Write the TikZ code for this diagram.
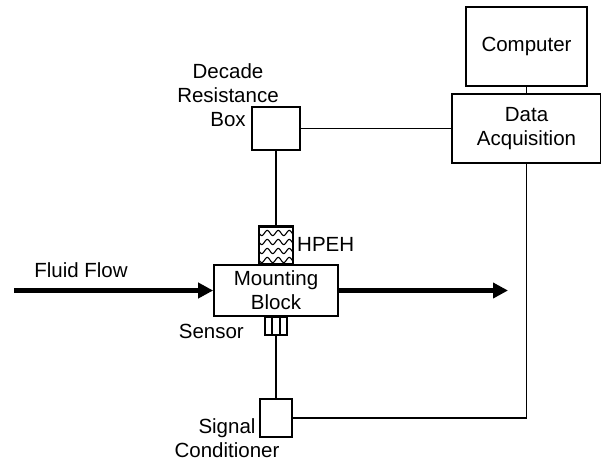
\documentclass[tikz,border=0pt]{standalone}
\usepackage{fontspec}
\setmainfont{Liberation Sans}
\usetikzlibrary{arrows.meta,calc}

\begin{document}
\begin{tikzpicture}[x=1pt, y=-1pt,
        box/.style = {draw, black, line width=1.7pt, rectangle, inner sep=0pt, align=center},
        lbl/.style = {inner sep=0pt, align=center},
        wire/.style = {black, line width=1.9pt},
        flow/.style = {black, line width=4.5pt, -{Triangle[length=15pt,width=15pt]}},
        wavy/.style = {black, line width=1.1pt}]
        \useasboundingbox (0,0) rectangle (601,461);
        \fontsize{20.5}{24}\selectfont
        % boxes
        \node[box, minimum width=121pt, minimum height=79pt] (computer) at (526.5,46.5) {Computer};
        \node[box, minimum width=149pt, minimum height=69pt] (daq) at (526.5,128.5) {Data\\Acquisition};
        \node[box, minimum width=48pt, minimum height=43pt] (decade) at (276,128.5) {};
        \node[box, minimum width=33pt, minimum height=37pt] (hpeh) at (276,245.5) {};
        \node[box, minimum width=124pt, minimum height=51pt] (block) at (276,290.5) {Mounting\\Block};
        \node[box, minimum width=22pt, minimum height=18pt] (sensor) at (276,326) {};
        \node[box, minimum width=32pt, minimum height=38pt] (signal) at (276,418) {};
        % labels
        \node[lbl] (decadelbl) at (228,95) {Decade\\Resistance\\Box};
        \node[lbl, anchor=west] (hpehlbl) at (297,244) {HPEH};
        \node[lbl] (flowlbl) at (81,270) {Fluid Flow};
        \node[lbl, anchor=east] (sensorlbl) at (244,331) {Sensor};
        \node[lbl] (signallbl) at (227,438) {Signal\\Conditioner};
        % waves in the harvester
        \begin{scope}
            \clip (hpeh.south west) rectangle (hpeh.north east);
            \foreach \r in {233,242,251,260}
                \draw[wavy] plot[domain=258:294, samples=45, smooth] (\x,{\r+2.6*sin((\x-259)*360/11)});
        \end{scope}
        \draw[box] (hpeh.south west) rectangle (hpeh.north east);
        % sensor strips
        \draw[wire, line width=1.2pt] ($(sensor.north west)!1/3!(sensor.north east)$) -- ($(sensor.south west)!1/3!(sensor.south east)$);
        \draw[wire, line width=1.2pt] ($(sensor.north west)!2/3!(sensor.north east)$) -- ($(sensor.south west)!2/3!(sensor.south east)$);
        % wiring
        \draw[wire] (computer) -- (daq);
        \draw[wire] (decade) -- (daq);
        \draw[wire] (decade) -- (hpeh);
        \draw[wire] (sensor) -- (signal);
        \draw[wire] (signal.east) -| (daq.south);
        % fluid flow
        \coordinate (flowin) at (14,290.5);
        \coordinate (flowout) at (508,290.5);
        \draw[flow] (flowin) -- (block.west);
        \draw[flow] (block.east) -- (flowout);
\end{tikzpicture}
\end{document}
